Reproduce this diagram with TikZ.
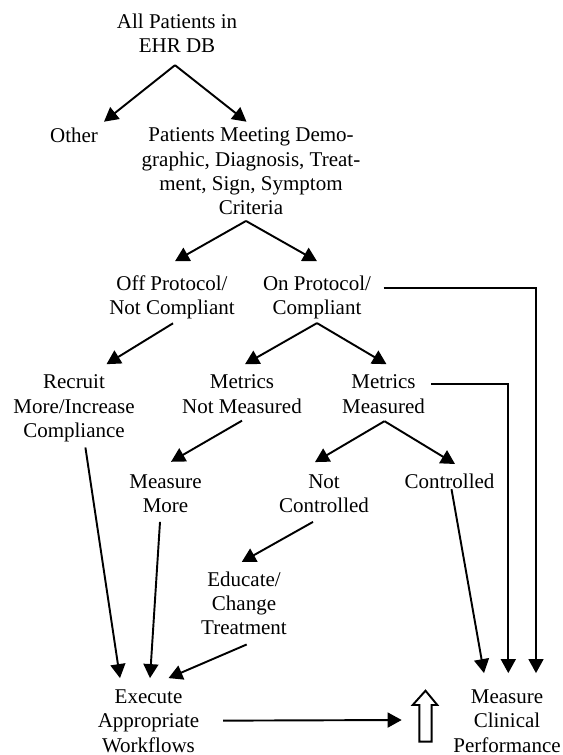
\documentclass[tikz,border=0pt]{standalone}
\usepackage{fontspec}
\setmainfont{Liberation Serif}
\usetikzlibrary{arrows.meta, calc}

\begin{document}
\begin{tikzpicture}[x=0.5714pt, y=-0.5714pt, every node/.style={font=\fontsize{12}{13.8}\selectfont}]
        % Define styles, plain text stages and thick arrows
        \tikzstyle{stage} = [align=center, inner sep=0pt, anchor=north]
        \tikzstyle{arrow} = [line width=1.1pt,->,>={Triangle[length=8pt,width=8.5pt]}]

        \useasboundingbox (0,0) rectangle (563,755);

        % Stages of the patient funnel
        \node (alldb) [stage] at (177,13.7) {All Patients in\\EHR DB};
        \node (other) [stage] at (74,127.7) {Other};
        \node (criteria) [stage] at (251,127.7) {Patients Meeting Demo-\\graphic, Diagnosis, Treat-\\ment, Sign, Symptom\\Criteria};
        \node (offprot) [stage] at (172,275.7) {Off Protocol/\\Not Compliant};
        \node (onprot) [stage] at (317,275.7) {On Protocol/\\Compliant};
        \node (recruit) [stage] at (74,374.7) {Recruit\\More/Increase\\Compliance};
        \node (notmeas) [stage] at (242,374.7) {Metrics\\Not Measured};
        \node (meas) [stage] at (383.5,374.7) {Metrics\\Measured};
        \node (more) [stage] at (165.5,474.1) {Measure\\More};
        \node (notctrl) [stage] at (324,474.1) {Not\\Controlled};
        \node (ctrl) [stage] at (449.5,473.7) {Controlled};
        \node (educate) [stage] at (244,571.7) {Educate/\\Change\\Treatment};
        \node (execute) [stage] at (148.5,689.6) {Execute\\Appropriate\\Workflows};
        \node (perf) [stage] at (507,689.6) {Measure\\Clinical\\Performance};
        \coordinate (uparrow) at (401.7,720);

        % Hollow up arrow
        \draw [line width=1.1pt] (419.3,741.7) -- (419.3,705) -- (412.7,705) -- (425.5,690.7)
            -- (437.3,705) -- (431.7,705) -- (431.7,741.7) -- cycle;

        % Arrows
        \draw [arrow] ($(alldb.south)+(-2,12)$) -- ($(other.north)+(30,-6)$);
        \draw [arrow] ($(alldb.south)+(-2,12)$) -- ($(criteria.north)+(-4.5,-6)$);
        \draw [arrow] ($(criteria.south)+(-5,6)$) -- ($(offprot.north)+(3,-14.5)$);
        \draw [arrow] ($(criteria.south)+(-5,6)$) -- ($(onprot.north)+(0,-14.5)$);
        \draw [arrow] ($(offprot.south)+(1,3.5)$) -- ($(recruit.north)+(32.5,-10.5)$);
        \draw [arrow] ($(onprot.south)+(0,3.5)$) -- ($(notmeas.north)+(3,-10.5)$);
        \draw [arrow] ($(onprot.south)+(0,3.5)$) -- ($(meas.north)+(3,-10.5)$);
        \draw [arrow] ($(notmeas.south)+(0,7)$) -- ($(more.north)+(5.5,-12.3)$);
        \draw [arrow] ($(meas.south)+(1,7.5)$) -- ($(notctrl.north)+(-9,-12)$);
        \draw [arrow] ($(meas.south)+(1,7.5)$) -- ($(ctrl.north)+(5.5,-9.7)$);
        \draw [arrow] ($(recruit.south)+(11.4,5.4)$) -- ($(execute.north)+(-28.5,-11.5)$);
        \draw [arrow] ($(more.south)+(-5.5,9)$) -- ($(execute.north)+(1.5,-11.5)$);
        \draw [arrow] ($(notctrl.south)+(-11,9)$) -- ($(educate.north)+(-2.3,-9.7)$);
        \draw [arrow] ($(educate.south)+(2.7,9)$) -- ($(execute.north)+(20,-11.5)$);
        \draw [arrow] ($(ctrl.south)+(2,0)$) -- ($(perf.north)+(-23,-16.5)$);
        \draw [arrow] ($(meas.north east)+(6,9.6)$) -| ($(perf.north)+(1.3,-16.5)$);
        \draw [arrow] ($(onprot.north east)+(12.3,12.3)$) -| ($(perf.north)+(29,-16.5)$);
        \draw [arrow] ($(execute.east)+(23.5,-0.5)$) -- (uparrow);
    \end{tikzpicture}
\end{document}
